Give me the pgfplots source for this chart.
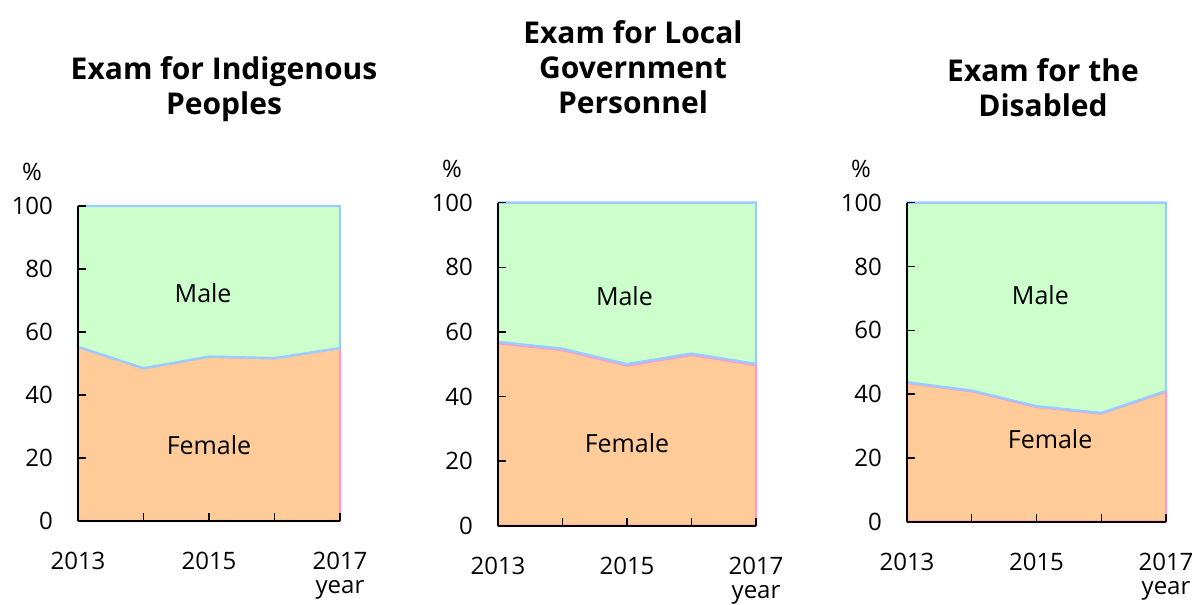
\documentclass[border=0pt]{standalone}
\usepackage{fontspec}
\setmainfont{Open Sans}
\usepackage{pgfplots}
\pgfplotsset{compat=1.18}
\definecolor{femfill}{HTML}{FFCC99}
\definecolor{malefill}{HTML}{CCFFCC}
\definecolor{maleline}{HTML}{99CCFF}
\definecolor{femline}{HTML}{FF99CC}
\pgfplotsset{
  panel/.style={
    scale only axis, clip=false, axis on top,
    xmin=2013, xmax=2017, ymin=0, ymax=100,
    axis x line*=bottom, axis y line*=left,
    axis line style={line width=1pt, black},
    xtick={2013,2014,2015,2016,2017},
    xticklabels={2013,,2015,,2017},
    ytick={0,20,40,60,80,100},
    tick align=inside, major tick length=4pt,
    tick style={black, line width=0.7pt},
    /pgf/number format/assume math mode=true,
    ticklabel style={font=\fontsize{12}{14}\selectfont},
    xticklabel style={yshift=-12pt},
    yticklabel style={xshift=-9pt},
    every axis plot/.append style={line width=1.2pt},
  }
}
\newcommand{\pct}{\node[font=\fontsize{12}{14}\selectfont] at ([xshift=-23pt,yshift=17pt]rel axis cs:0,1) {\%};
  \node[font=\fontsize{12}{14}\selectfont] at ([yshift=-34.5pt]rel axis cs:1,0) {year};}
\begin{document}
\begin{tikzpicture}
\useasboundingbox (0,0) rectangle (600pt,302.5pt);
% Panel 1
\begin{axis}[panel, at={(39pt,42pt)}, width=131pt, height=157.5pt]
\addplot[fill=femfill, draw=femline] coordinates {(2013,0) (2013,55.3) (2014,48.5) (2015,52.2) (2016,51.7) (2017,54.9) (2017,0)} -- cycle;
\addplot[fill=malefill, draw=maleline] coordinates {(2013,55.3) (2014,48.5) (2015,52.2) (2016,51.7) (2017,54.9) (2017,100) (2013,100)} -- cycle;
\node[font=\fontsize{12.5}{14}\selectfont] at (axis cs:2014.91,72.4) {Male};
\node[font=\fontsize{12.5}{14}\selectfont] at (axis cs:2015.0,24.1) {Female};
\pct
\end{axis}
% Panel 2
\begin{axis}[panel, at={(249pt,39.65pt)}, width=129pt, height=161.5pt]
\addplot[fill=femfill, draw=femline] coordinates {(2013,0) (2013,56.5) (2014,54.4) (2015,49.6) (2016,52.9) (2017,49.7) (2017,0)} -- cycle;
\addplot[fill=malefill, draw=maleline] coordinates {(2013,56.9) (2014,54.8) (2015,50.0) (2016,53.3) (2017,50.1) (2017,100) (2013,100)} -- cycle;
\node[font=\fontsize{12.5}{14}\selectfont] at (axis cs:2014.96,71.2) {Male};
\node[font=\fontsize{12.5}{14}\selectfont] at (axis cs:2015.0,25.5) {Female};
\pct
\end{axis}
% Panel 3
\begin{axis}[panel, at={(453.5pt,41.65pt)}, width=129.5pt, height=159.5pt]
\addplot[fill=femfill, draw=femline] coordinates {(2013,0) (2013,43.5) (2014,40.9) (2015,36.0) (2016,33.9) (2017,40.8) (2017,0)} -- cycle;
\addplot[fill=malefill, draw=maleline] coordinates {(2013,43.7) (2014,41.1) (2015,36.2) (2016,34.1) (2017,41.0) (2017,100) (2013,100)} -- cycle;
\node[font=\fontsize{12.5}{14}\selectfont] at (axis cs:2015.06,71.1) {Male};
\node[font=\fontsize{12.5}{14}\selectfont] at (axis cs:2015.21,25.8) {Female};
\pct
\end{axis}
% Titles
\node[align=center, font=\bfseries\fontsize{15}{17.5}\selectfont] at (112pt,258pt) {Exam for Indigenous\\Peoples};
\node[align=center, font=\bfseries\fontsize{15}{17.5}\selectfont] at (316.5pt,269pt) {Exam for Local\\Government\\Personnel};
\node[align=center, font=\bfseries\fontsize{15}{17.5}\selectfont] at (521.5pt,258.5pt) {Exam for the\\Disabled};
\end{tikzpicture}
\end{document}
